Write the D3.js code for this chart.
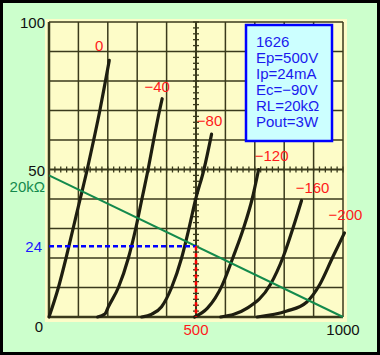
<!DOCTYPE html>
<html><head><meta charset="utf-8">
<script src="https://cdn.jsdelivr.net/npm/d3@7"></script>
<style>html,body{margin:0;padding:0;background:#ccffcc;}svg{display:block;}</style>
</head><body>
<svg id="c" width="380" height="355"></svg>
<script>
// ---- data ----
const gridLabels = ["0", "−40", "−80", "−120", "−160", "−200"];
const curve0V    = [0, 32, 58, 82, 106, 130, 152, 173, 192, 205];
const curve0I    = [0, 10, 20, 30, 40, 50, 60, 70, 80, 87];
const curve40V   = [165, 190, 202, 236, 270, 295, 316, 337, 356, 376, 385];
const curve40I   = [0, 1, 3.5, 10, 20, 30, 40, 50, 60, 70, 74];
const curve80V   = [315, 350, 383, 417, 451, 476, 499, 527, 553];
const curve80I   = [0, 1, 3.5, 10, 20, 30, 40, 50, 62];
const curve120V  = [495, 539, 590, 627, 663, 691, 713];
const curve120I  = [0, 3, 11, 20.5, 30.5, 40, 50];
const curve160V  = [584, 674, 753, 797, 831, 859];
const curve160I  = [0, 3, 11, 20.5, 30.5, 39.5];
const curve200V  = [708, 809, 876, 921, 966, 1005];
const curve200I  = [0, 2, 5, 11, 20.5, 28.5];
const loadLineV  = [0, 1000];
const loadLineI  = [48, 0];
const opV = 500, opI = 24;
const yTickLabels = [0, 50, 100];
const xTickLabels = [500, 1000];
const infoLines = ["1626", "Ep=500V", "Ip=24mA", "Ec=−90V", "RL=20kΩ", "Pout=3W"];

// ---- layout ----
const svg = d3.select("#c");
const W = 380, H = 355;
const x = d3.scaleLinear().domain([0, 1000]).range([49, 343]);
const y = d3.scaleLinear().domain([0, 100]).range([317, 22]);
const font = "'Liberation Sans', Arial, sans-serif";

svg.append("rect").attr("x", 0).attr("y", 0).attr("width", W).attr("height", H).attr("fill", "#ccffcc");
svg.append("rect").attr("x", 1.5).attr("y", 1.5).attr("width", W - 3).attr("height", H - 3)
  .attr("fill", "none").attr("stroke", "#000").attr("stroke-width", 3);

// plot paper
svg.append("rect").attr("x", x(0) - 4).attr("y", y(100) - 3)
  .attr("width", x(1000) - x(0) + 8).attr("height", y(0) - y(100) + 8)
  .attr("fill", "#fdfcc8");

const gridCol = "#3a3a1c";
const g = svg.append("g");
d3.range(0, 101, 10).forEach(v => {
  g.append("line").attr("x1", x(0)).attr("x2", x(1000)).attr("y1", y(v)).attr("y2", y(v))
    .attr("stroke", gridCol).attr("stroke-width", v === 0 ? 2.5 : (v === 50 ? 2 : 1.5));
});
d3.range(0, 1001, 100).forEach(v => {
  g.append("line").attr("x1", x(v)).attr("x2", x(v)).attr("y1", y(0)).attr("y2", y(100))
    .attr("stroke", gridCol).attr("stroke-width", v === 0 ? 2.5 : (v === 500 ? 2 : 1.5));
});
// minor ticks on the 50 mA and 500 V lines
d3.range(0, 1001, 20).forEach(v => {
  g.append("line").attr("x1", x(v)).attr("x2", x(v)).attr("y1", y(50) - 3).attr("y2", y(50) + 3)
    .attr("stroke", gridCol).attr("stroke-width", 1.3);
});
d3.range(0, 101, 2).forEach(v => {
  g.append("line").attr("x1", x(500) - 3).attr("x2", x(500) + 3).attr("y1", y(v)).attr("y2", y(v))
    .attr("stroke", gridCol).attr("stroke-width", 1.3);
});

// plate curves
const curves = [
  [curve0V, curve0I], [curve40V, curve40I], [curve80V, curve80I],
  [curve120V, curve120I], [curve160V, curve160I], [curve200V, curve200I]
];
const labelOff = [[-10, -9], [-5, -7], [-2, -8], [13, -9], [11, -7], [1, -13]];
const lineX = d3.line().x(d => x(d[0])).y(d => y(d[1])).curve(d3.curveMonotoneX);
curves.forEach((c, i) => {
  const pts = c[0].map((v, k) => [v, c[1][k]]);
  svg.append("path").attr("d", lineX(pts)).attr("fill", "none")
    .attr("stroke", "#1e1e10").attr("stroke-width", 3.2).attr("stroke-linecap", "round");
  const e = pts[pts.length - 1];
  svg.append("text").attr("x", x(e[0]) + labelOff[i][0]).attr("y", y(e[1]) + labelOff[i][1])
    .attr("text-anchor", "middle").attr("fill", "#ff1a1a")
    .attr("font-family", font).attr("font-size", 15).text(gridLabels[i]);
});

// load line
svg.append("line").attr("x1", x(loadLineV[0])).attr("y1", y(loadLineI[0]))
  .attr("x2", x(loadLineV[1])).attr("y2", y(loadLineI[1]))
  .attr("stroke", "#138a4c").attr("stroke-width", 2);

// operating point guides
svg.append("line").attr("x1", x(0)).attr("x2", x(opV)).attr("y1", y(opI)).attr("y2", y(opI))
  .attr("stroke", "#0000ff").attr("stroke-width", 2.5).attr("stroke-dasharray", "5,3");
svg.append("line").attr("x1", x(opV)).attr("x2", x(opV)).attr("y1", y(opI)).attr("y2", y(0))
  .attr("stroke", "#ff0000").attr("stroke-width", 2.5).attr("stroke-dasharray", "4,3");

// axis texts
yTickLabels.forEach(v => {
  svg.append("text").attr("x", v === 0 ? 43 : 45).attr("y", y(v) + (v === 0 ? 15 : 6))
    .attr("text-anchor", "end").attr("fill", "#111")
    .attr("font-family", font).attr("font-size", 15).text(v);
});
xTickLabels.forEach(v => {
  svg.append("text").attr("x", x(v)).attr("y", y(0) + 18)
    .attr("text-anchor", "middle").attr("fill", v === opV ? "#ff1a1a" : "#111")
    .attr("font-family", font).attr("font-size", 15).text(v);
});
svg.append("text").attr("x", 42).attr("y", y(opI) + 6).attr("text-anchor", "end")
  .attr("fill", "#1a1aff").attr("font-family", font).attr("font-size", 15).text(opI);
svg.append("text").attr("x", 45).attr("y", y(loadLineI[0]) + 17).attr("text-anchor", "end")
  .attr("fill", "#138a4c").attr("font-family", font).attr("font-size", 15).text("20kΩ");

// info box
svg.append("rect").attr("x", 246).attr("y", 25).attr("width", 86).attr("height", 116)
  .attr("fill", "#ccffff").attr("stroke", "#0000ff").attr("stroke-width", 2.5);
infoLines.forEach((t, i) => {
  svg.append("text").attr("x", 256).attr("y", 47 + i * 16)
    .attr("fill", "#1a1aee").attr("font-family", font).attr("font-size", 15).text(t);
});
</script>
</body></html>
